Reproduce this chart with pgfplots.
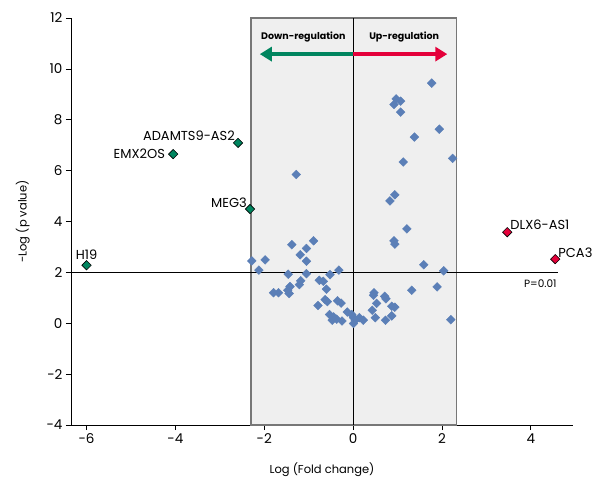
\documentclass[border=0pt]{standalone}
\usepackage{fontspec}
\setmainfont{Poppins}
\usepackage{pgfplots}
\pgfplotsset{compat=1.18}
\usetikzlibrary{arrows.meta}
\definecolor{ptblue}{HTML}{5B7FB7}
\definecolor{dgreen}{HTML}{00855F}
\definecolor{ured}{HTML}{E4003A}
\definecolor{boxfill}{HTML}{EFEFEF}
\definecolor{boxedge}{HTML}{777777}
\tikzset{lab/.style={font=\fontsize{13}{15}\selectfont, inner sep=1pt}}
\begin{document}
\begin{tikzpicture}
\begin{axis}[
  scale only axis,
  width=502pt, height=407pt,
  xmin=-6.35, xmax=4.95, ymin=-4, ymax=12,
  axis x line*=bottom, axis y line*=left,
  xtick={-6,-4,-2,0,2,4}, ytick={-4,-2,0,2,4,6,8,10,12},
  tick align=outside, major tick length=5pt,
  tick style={black, line width=0.7pt},
  axis line style={black, line width=0.7pt},
  /pgf/number format/assume math mode=true,
  ticklabel style={font=\fontsize{13.5}{15}\selectfont},
  xlabel={Log (Fold change)}, ylabel={-Log (p value)},
  label style={font=\fontsize{11.5}{13}\selectfont},
  xlabel style={yshift=-12pt},
  ylabel style={yshift=10pt},
  clip=false,
]
\fill[boxfill] (axis cs:-2.3,-4) rectangle (axis cs:2.32,12);
\draw[boxedge, line width=1.3pt] (axis cs:-2.3,-4) rectangle (axis cs:2.32,12);
\draw[black, line width=0.8pt] (axis cs:0,-4) -- (axis cs:0,12);
\draw[black, line width=0.8pt] (axis cs:-6.42,2) -- (axis cs:4.62,2);
\node[anchor=north east, font=\fontsize{10.5}{12}\selectfont] at (axis cs:4.66,1.85) {P=0.01};
\draw[dgreen, line width=4.5pt, -{Triangle[length=12pt,width=14pt]}] (axis cs:0,10.58) -- (axis cs:-2.1,10.58);
\draw[ured, line width=4.5pt, -{Triangle[length=12pt,width=14pt]}] (axis cs:0,10.58) -- (axis cs:2.12,10.58);
\node[font=\bfseries\fontsize{9.5}{11}\selectfont] at (axis cs:-1.12,11.25) {Down-regulation};
\node[font=\bfseries\fontsize{9.5}{11}\selectfont] at (axis cs:1.15,11.25) {Up-regulation};

\addplot[only marks, mark=square*, mark size=3.1pt, color=ptblue, mark options={rotate=45, draw=ptblue, fill=ptblue}] coordinates {
(1.77,9.44) (0.97,8.82) (1.07,8.73) (0.92,8.6) (1.07,8.3) (1.94,7.63) (1.38,7.32)
(2.24,6.48) (1.13,6.34) (-1.28,5.85) (0.94,5.05) (0.83,4.81) (1.21,3.71)
(0.92,3.24) (0.94,3.11) (-1.38,3.09) (-0.89,3.24) (-1.05,2.94)
(-1.19,2.69) (-1.05,2.44) (-2.28,2.45) (-1.98,2.49) (-2.12,2.09)
(-1.46,1.93) (-1.05,1.95) (-0.52,1.91) (-0.32,2.09) (1.59,2.3) (2.04,2.06)
(-1.18,1.67) (-1.21,1.52) (-0.76,1.69) (-0.67,1.65) (-1.42,1.44) (-1.47,1.3)
(-1.44,1.17) (-1.79,1.2) (-1.68,1.2) (-0.6,1.34) (1.32,1.3) (1.89,1.43)
(0.47,1.2) (0.46,1.1) (0.71,1.06) (0.74,0.96) (-0.63,0.93) (-0.58,0.85)
(-0.35,0.88) (-0.27,0.79) (-0.79,0.7) (0.53,0.78) (0.87,0.67) (0.94,0.63)
(0.43,0.51) (0.87,0.29) (0.5,0.22) (0.73,0.12) (2.2,0.14)
(-0.53,0.34) (-0.44,0.25) (-0.47,0.12) (-0.37,0.16) (-0.25,0.09)
(-0.13,0.44) (-0.03,0.34) (0.01,0.22) (0.05,0.12) (0.01,-0.01) (0.14,0.22) (0.23,0.12)
};

\addplot[only marks, mark=square*, mark size=3.3pt, mark options={rotate=45, draw=black, fill=dgreen, line width=0.6pt}] coordinates {(-6.0,2.28)} node[lab, anchor=south, yshift=5pt] {H19};
\addplot[only marks, mark=square*, mark size=3.3pt, mark options={rotate=45, draw=black, fill=dgreen, line width=0.6pt}] coordinates {(-4.05,6.65)} node[lab, anchor=east, xshift=-7pt] {EMX2OS};
\addplot[only marks, mark=square*, mark size=3.3pt, mark options={rotate=45, draw=black, fill=dgreen, line width=0.6pt}] coordinates {(-2.59,7.09)} node[lab, anchor=south east, xshift=-2pt, yshift=1pt] {ADAMTS9-AS2};
\addplot[only marks, mark=square*, mark size=3.3pt, mark options={rotate=45, draw=black, fill=dgreen, line width=0.6pt}] coordinates {(-2.32,4.49)} node[lab, anchor=south east, xshift=-2pt, yshift=0pt] {MEG3};
\addplot[only marks, mark=square*, mark size=3.3pt, mark options={rotate=45, draw=black, fill=ured, line width=0.6pt}] coordinates {(3.47,3.58)} node[lab, anchor=south west, xshift=2pt, yshift=1pt] {DLX6-AS1};
\addplot[only marks, mark=square*, mark size=3.3pt, mark options={rotate=45, draw=black, fill=ured, line width=0.6pt}] coordinates {(4.55,2.52)} node[lab, anchor=south west, xshift=2pt, yshift=0pt] {PCA3};
\end{axis}
\pgfresetboundingbox
\path ([shift={(-71pt,-54pt)}]current axis.south west) rectangle ([shift={(24pt,18pt)}]current axis.north east);
\end{tikzpicture}
\end{document}
